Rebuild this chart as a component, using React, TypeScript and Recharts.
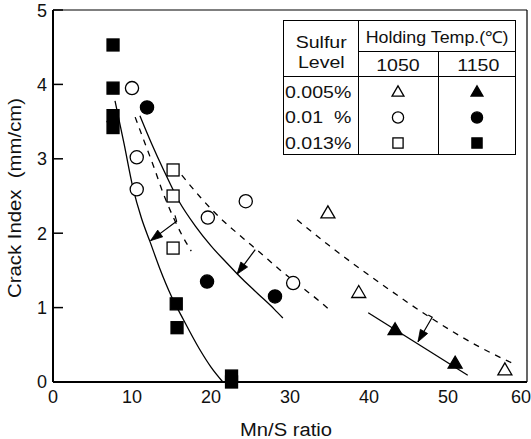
import React from "react";
import {
  ComposedChart, Line, Scatter, XAxis, YAxis, ReferenceLine, Legend, Label,
} from "recharts";

const FONT = '"Liberation Sans", Arial, Helvetica, sans-serif';

const xTicks = [0, 10, 20, 30, 40, 50, 60];
const yTicks = [0, 1, 2, 3, 4, 5];

// measured points (Mn/S ratio, crack index)
const openTriangles = [
  { x: 34.8, y: 2.27 }, { x: 38.7, y: 1.2 }, { x: 57.2, y: 0.16 },
];
const filledTriangles = [
  { x: 43.3, y: 0.7 }, { x: 50.9, y: 0.25 },
];
const openCircles = [
  { x: 10.0, y: 3.95 }, { x: 10.6, y: 3.02 }, { x: 10.6, y: 2.59 },
  { x: 19.6, y: 2.21 }, { x: 24.4, y: 2.43 }, { x: 30.4, y: 1.33 },
];
const filledCircles = [
  { x: 11.9, y: 3.69 }, { x: 19.5, y: 1.35 }, { x: 28.1, y: 1.15 },
];
const openSquares = [
  { x: 15.2, y: 2.85 }, { x: 15.2, y: 2.5 }, { x: 15.2, y: 1.8 },
];
const filledSquares = [
  { x: 7.6, y: 4.53 }, { x: 7.6, y: 3.95 }, { x: 7.6, y: 3.58 }, { x: 7.6, y: 3.42 },
  { x: 15.6, y: 1.05 }, { x: 15.7, y: 0.73 }, { x: 22.6, y: 0.08 }, { x: 22.6, y: 0 },
];

// fitted curves
const curve013Hot = [
  { x: 7.85, y: 3.78 }, { x: 9, y: 3.2 }, { x: 10.1, y: 2.62 }, { x: 11.2, y: 2.2 },
  { x: 12.3, y: 1.88 }, { x: 13.5, y: 1.53 }, { x: 15, y: 1.15 }, { x: 16.5, y: 0.84 },
  { x: 18.5, y: 0.45 }, { x: 20, y: 0.2 }, { x: 21.5, y: 0 },
];
const curve013Cold = [
  { x: 10.4, y: 3.56 }, { x: 11.6, y: 3.22 }, { x: 12.8, y: 2.88 }, { x: 13.9, y: 2.55 },
  { x: 15.2, y: 2.22 }, { x: 16.3, y: 1.98 }, { x: 17.5, y: 1.76 },
];
const curve01Hot = [
  { x: 11, y: 3.58 }, { x: 12.5, y: 3.2 }, { x: 14, y: 2.85 }, { x: 16, y: 2.42 },
  { x: 18, y: 2.1 }, { x: 20, y: 1.83 }, { x: 22, y: 1.6 }, { x: 24, y: 1.38 },
  { x: 26, y: 1.18 }, { x: 28, y: 0.98 }, { x: 29.1, y: 0.86 },
];
const curve01Cold = [
  { x: 16.3, y: 2.78 }, { x: 18.6, y: 2.49 }, { x: 21.1, y: 2.21 }, { x: 24.1, y: 1.93 },
  { x: 26.2, y: 1.74 }, { x: 28.7, y: 1.51 }, { x: 31.3, y: 1.29 }, { x: 33.8, y: 1.08 },
  { x: 35.2, y: 0.95 },
];
const curve005Cold = [
  { x: 30.9, y: 2.18 }, { x: 35, y: 1.83 }, { x: 41.4, y: 1.33 }, { x: 47.7, y: 0.87 },
  { x: 54, y: 0.47 }, { x: 58.2, y: 0.25 },
];
const curve005Hot = [
  { x: 39.9, y: 0.93 }, { x: 52.5, y: 0.09 },
];

// shift arrows (dashed -> solid)
const arrow013 = [{ x: 15.44, y: 2.24 }, { x: 15.65, y: 2.16 }, { x: 12.35, y: 1.9 }];
const arrow01 = [{ x: 25.6, y: 1.78 }, { x: 23.3, y: 1.45 }];
const arrow005 = [{ x: 47.5, y: 0.9 }, { x: 48.0, y: 0.87 }, { x: 46.2, y: 0.54 }];

const sulfurLevels = ["0.005%", "0.01  %", "0.013%"];
const holdTemps = ["1050", "1150"];

type Kind = "tri" | "circ" | "sq";
const legendRows: { kind: Kind }[] = [{ kind: "tri" }, { kind: "circ" }, { kind: "sq" }];

function Marker({ kind, filled, cx, cy, s = 1 }: { kind: Kind; filled: boolean; cx: number; cy: number; s?: number }) {
  const fill = filled ? "#000" : "#fff";
  if (kind === "tri") {
    const h = 12 * s, w = 14 * s;
    return (
      <path
        d={`M${cx},${cy - h * 0.6} L${cx + w / 2},${cy + h * 0.4} L${cx - w / 2},${cy + h * 0.4} Z`}
        fill={fill} stroke="#000" strokeWidth={1.3}
      />
    );
  }
  if (kind === "circ") {
    return <circle cx={cx} cy={cy} r={6.6 * s} fill={fill} stroke="#000" strokeWidth={1.3} />;
  }
  const a = 12 * s;
  return <rect x={cx - a / 2} y={cy - a / 2} width={a} height={a} fill={fill} stroke="#000" strokeWidth={1.3} />;
}

const shapeOf = (kind: Kind, filled: boolean) => (p: any) =>
  <Marker kind={kind} filled={filled} cx={p.cx} cy={p.cy} />;

function ArrowHead(p: any) {
  const pts = p.points || [];
  const i = p.index;
  if (!pts.length || i !== pts.length - 1) return <g key={p.key} />;
  const a = pts[i - 1], b = pts[i];
  const ang = Math.atan2(b.y - a.y, b.x - a.x);
  const L = 12, W = 4.2;
  const bx = b.x - L * Math.cos(ang), by = b.y - L * Math.sin(ang);
  const nx = -Math.sin(ang) * W, ny = Math.cos(ang) * W;
  return (
    <path
      key={p.key}
      d={`M${b.x},${b.y} L${bx + nx},${by + ny} L${bx - nx},${by - ny} Z`}
      fill="#000" stroke="#000" strokeWidth={0.8}
    />
  );
}

function Wide({ children, origin = "center", k = 1.15 }: { children: React.ReactNode; origin?: string; k?: number }) {
  return (
    <span style={{ display: "inline-block", transform: `scaleX(${k})`, transformOrigin: origin }}>{children}</span>
  );
}

function LegendTable() {
  const cell: React.CSSProperties = {
    position: "absolute", display: "flex", alignItems: "center", justifyContent: "center",
    fontFamily: FONT, fontSize: 17, color: "#111", whiteSpace: "pre", lineHeight: 1,
  };
  return (
    <div style={{ position: "relative", width: 233, height: 135, border: "1.5px solid #000", boxSizing: "border-box", background: "#fff" }}>
      <div style={{ position: "absolute", left: 74, top: 0, bottom: 0, borderLeft: "1.2px solid #000" }} />
      <div style={{ position: "absolute", left: 154, top: 30, bottom: 0, borderLeft: "1px solid #000" }} />
      <div style={{ position: "absolute", left: 74, right: 0, top: 30, borderTop: "1px solid #000" }} />
      <div style={{ position: "absolute", left: 0, right: 0, top: 55, borderTop: "1.2px solid #000" }} />
      <div style={{ ...cell, left: 0, width: 74, top: 11, height: 20 }}><Wide>Sulfur</Wide></div>
      <div style={{ ...cell, left: 0, width: 74, top: 31, height: 20 }}><Wide>Level</Wide></div>
      <div style={{ ...cell, left: 76, width: 155, top: 4, height: 24, fontSize: 16.5 }}><Wide k={1.08}>Holding Temp.(℃)</Wide></div>
      {holdTemps.map((t, j) => (
        <div key={t} style={{ ...cell, left: 75 + j * 80, width: 78, top: 33, height: 22 }}><Wide>{t}</Wide></div>
      ))}
      {sulfurLevels.map((s, i) => (
        <div key={s} style={{ ...cell, left: 1, width: 72, top: 60 + i * 25.5, height: 22, justifyContent: "flex-start" }}>
          <Wide origin="left">{s}</Wide>
        </div>
      ))}
      <svg style={{ position: "absolute", left: 0, top: 0 }} width={233} height={135}>
        {legendRows.map((r, i) =>
          [false, true].map((f, j) => (
            <Marker key={`${i}-${j}`} kind={r.kind} filled={f} cx={114 + j * 79} cy={71 + i * 25.5} s={0.85} />
          ))
        )}
      </svg>
    </div>
  );
}

function XTick(p: any) {
  const v = p.payload.value;
  const last = v === 60;
  return (
    <text x={last ? 531 : p.x} y={p.y} dy="0.71em" textAnchor={last ? "end" : "middle"}
      fontFamily={FONT} fontSize={18} fill="#111">{v}</text>
  );
}

function YTitle(p: any) {
  const vb = p.viewBox || { x: 0, y: 10, width: 53, height: 372 };
  const cx = 15, cy = vb.y + vb.height / 2 + 2;
  return (
    <text x={cx} y={cy} transform={`rotate(-90 ${cx} ${cy})`} textAnchor="middle" dominantBaseline="central"
      fontFamily={FONT} fontSize={18} fill="#111" style={{ whiteSpace: "pre" }}
      textLength={200} lengthAdjust="spacingAndGlyphs">
      {"Crack Index  (mm/cm)"}
    </text>
  );
}

function XTitle(p: any) {
  const vb = p.viewBox || { x: 53, y: 382, width: 474, height: 57 };
  return (
    <text x={vb.x + vb.width / 2 - 4} y={436} textAnchor="middle" fontFamily={FONT} fontSize={18} fill="#111"
      textLength={92} lengthAdjust="spacingAndGlyphs">
      Mn/S ratio
    </text>
  );
}

export default function App() {
  return (
    <div style={{ position: "absolute", left: 0, top: 0, width: 531, height: 439, background: "#fff" }}>
      <ComposedChart width={531} height={439} margin={{ top: 10, right: 4, bottom: 0, left: 0 }}>
        <XAxis
          type="number" dataKey="x" domain={[0, 60]} ticks={xTicks}
          axisLine={{ stroke: "#000", strokeWidth: 2 }} tickLine={false} tickSize={4} tickMargin={4}
          height={57} tick={<XTick />}
        >
          <Label content={<XTitle />} />
        </XAxis>
        <YAxis
          type="number" dataKey="y" domain={[0, 5]} ticks={yTicks}
          axisLine={{ stroke: "#000", strokeWidth: 2 }} tickLine={{ stroke: "#000", strokeWidth: 1.5 }}
          tickSize={-10} tickMargin={16} width={53}
          tick={{ fontFamily: FONT, fontSize: 18, fill: "#111" }}
        >
          <Label content={<YTitle />} />
        </YAxis>
        <ReferenceLine y={5} stroke="#000" strokeWidth={1.2} />
        <ReferenceLine x={60} stroke="#000" strokeWidth={1.2} />

        <Line data={curve013Hot} dataKey="y" type="monotone" stroke="#000" strokeWidth={1.3} dot={false} isAnimationActive={false} />
        <Line data={curve013Cold} dataKey="y" type="monotone" stroke="#000" strokeWidth={1.3} strokeDasharray="6 6" dot={false} isAnimationActive={false} />
        <Line data={curve01Hot} dataKey="y" type="monotone" stroke="#000" strokeWidth={1.3} dot={false} isAnimationActive={false} />
        <Line data={curve01Cold} dataKey="y" type="monotone" stroke="#000" strokeWidth={1.3} strokeDasharray="6 6" dot={false} isAnimationActive={false} />
        <Line data={curve005Cold} dataKey="y" type="monotone" stroke="#000" strokeWidth={1.3} strokeDasharray="6 6" dot={false} isAnimationActive={false} />
        <Line data={curve005Hot} dataKey="y" type="linear" stroke="#000" strokeWidth={1.3} dot={false} isAnimationActive={false} />

        <Line data={arrow013} dataKey="y" type="linear" stroke="#000" strokeWidth={1.2} dot={ArrowHead} activeDot={false} isAnimationActive={false} />
        <Line data={arrow01} dataKey="y" type="linear" stroke="#000" strokeWidth={1.2} dot={ArrowHead} activeDot={false} isAnimationActive={false} />
        <Line data={arrow005} dataKey="y" type="linear" stroke="#000" strokeWidth={1.2} dot={ArrowHead} activeDot={false} isAnimationActive={false} />

        <Scatter data={openTriangles} dataKey="y" shape={shapeOf("tri", false)} isAnimationActive={false} />
        <Scatter data={filledTriangles} dataKey="y" shape={shapeOf("tri", true)} isAnimationActive={false} />
        <Scatter data={openCircles} dataKey="y" shape={shapeOf("circ", false)} isAnimationActive={false} />
        <Scatter data={filledCircles} dataKey="y" shape={shapeOf("circ", true)} isAnimationActive={false} />
        <Scatter data={openSquares} dataKey="y" shape={shapeOf("sq", false)} isAnimationActive={false} />
        <Scatter data={filledSquares} dataKey="y" shape={shapeOf("sq", true)} isAnimationActive={false} />

        <Legend
          layout="vertical" align="center" verticalAlign="middle"
          content={() => <LegendTable />}
          wrapperStyle={{ position: "absolute", left: 283, top: 20, width: 233, height: 135 }}
        />
      </ComposedChart>
    </div>
  );
}
